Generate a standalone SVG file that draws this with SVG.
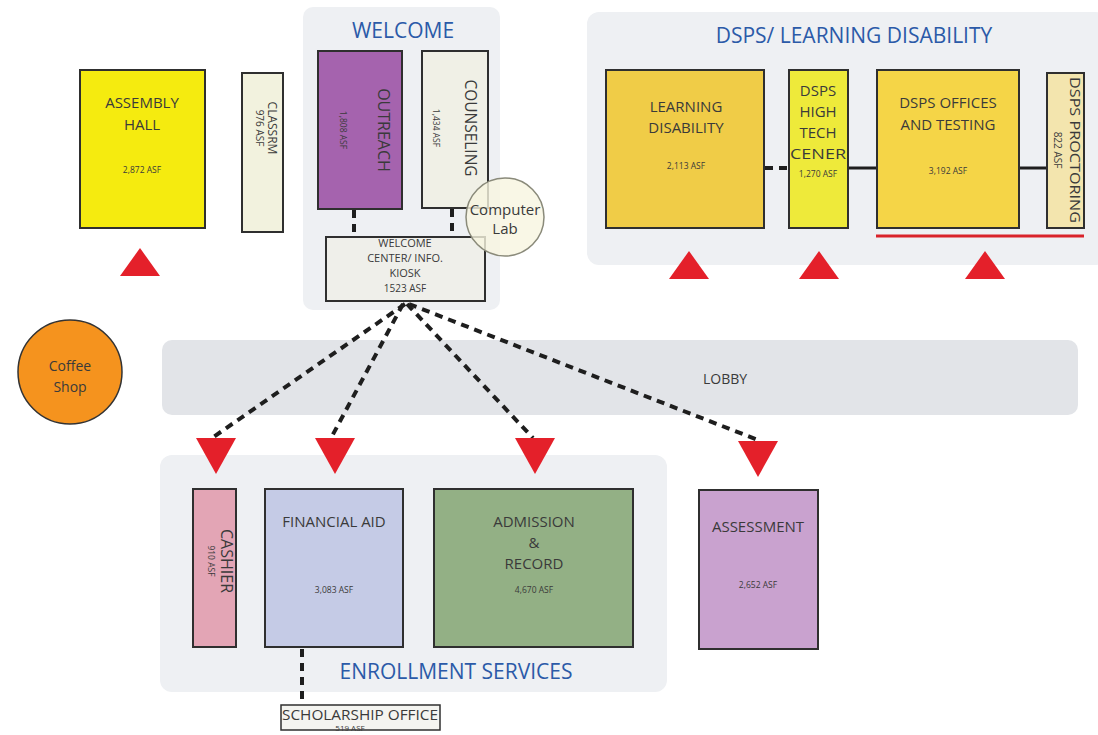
<svg xmlns="http://www.w3.org/2000/svg" xmlns:xlink="http://www.w3.org/1999/xlink" width="1098" height="735" viewBox="0 0 1098 735">
<style>
text{font-family:"Open Sans","Liberation Sans",sans-serif;fill:#3a3a3a;text-anchor:middle}
.zone{fill:#EEF0F3}
.title{fill:#2B5AA8;font-size:21px}
.room{stroke:#2f2f2f;stroke-width:2}
.lbl{font-size:15px}
.asf{font-size:8.5px}
.dash{fill:none;stroke:#1e1e1e;stroke-width:4;stroke-dasharray:8 6}
.solid{fill:none;stroke:#1e1e1e;stroke-width:3}
.tri{fill:#E4202A}
</style>
<defs>
<polygon id="up" class="tri" points="-20,14 20,14 0,-14"/>
<polygon id="down" class="tri" points="-20,-18 20,-18 0,18"/>
</defs>

<g id="zones">
<rect id="welcome-zone" class="zone" x="303" y="7" width="197" height="303" rx="10"/>
<rect id="dsps-zone" class="zone" x="587" y="12" width="520" height="253" rx="12"/>
<rect id="lobby" x="162" y="340" width="916" height="75" rx="10" fill="#E2E4E8"/>
<rect id="enroll-zone" class="zone" x="160" y="455" width="507" height="237" rx="12"/>
<text class="title" x="403" y="38">WELCOME</text>
<text class="title" x="854" y="43">DSPS/ LEARNING DISABILITY</text>
<text class="title" x="456" y="679">ENROLLMENT SERVICES</text>
<text x="725" y="384" font-size="14">LOBBY</text>
</g>

<g id="connectors">
<line class="dash" x1="354" y1="210" x2="354" y2="237"/>
<line class="dash" x1="452" y1="209" x2="452" y2="237"/>
<line class="dash" x1="765" y1="168" x2="789" y2="168"/>
<line class="solid" x1="848" y1="168" x2="877" y2="168"/>
<line class="solid" x1="1019" y1="168" x2="1047" y2="168"/>
<line class="dash" x1="405" y1="304" x2="212" y2="438"/>
<line class="dash" x1="403" y1="304" x2="331" y2="438"/>
<line class="dash" x1="407" y1="304" x2="533" y2="438"/>
<line class="dash" x1="409" y1="304" x2="758" y2="440"/>
<line class="dash" x1="302" y1="649" x2="302" y2="705"/>
<line x1="876" y1="236" x2="1084" y2="236" stroke="#D9232A" stroke-width="3"/>
</g>

<g id="assembly-hall">
<rect class="room" x="80" y="70" width="125" height="158" fill="#F5EB0F"/>
<text class="lbl" x="142" y="108">ASSEMBLY</text>
<text class="lbl" x="142" y="130">HALL</text>
<text class="asf" x="142" y="173">2,872 ASF</text>
</g>
<g id="classroom">
<rect class="room" x="242" y="73" width="41" height="159" fill="#F2F2DE"/>
<text font-size="12" transform="translate(268,128) rotate(90)">CLASSRM</text>
<text font-size="10" transform="translate(256,128) rotate(90)">976 ASF</text>
</g>

<g id="outreach">
<rect class="room" x="318" y="51" width="84" height="158" fill="#A563AE"/>
<text font-size="16" transform="translate(378,130) rotate(90)">OUTREACH</text>
<text class="asf" transform="translate(340,130) rotate(90)">1,808 ASF</text>
</g>
<g id="counseling">
<rect class="room" x="422" y="51" width="66" height="157" fill="#F0F0E6"/>
<text font-size="15.5" transform="translate(465,128) rotate(90)">COUNSELING</text>
<text class="asf" transform="translate(433,128) rotate(90)">1,434 ASF</text>
</g>
<g id="kiosk">
<rect class="room" x="326" y="237" width="159" height="64" fill="#EFEFEA"/>
<text font-size="11" x="405" y="247">WELCOME</text>
<text font-size="11" x="405" y="262">CENTER/ INFO.</text>
<text font-size="11" x="405" y="277">KIOSK</text>
<text font-size="10" x="405" y="292">1523 ASF</text>
</g>
<g id="computer-lab">
<circle cx="505" cy="217" r="39" fill="#F7F5E0" fill-opacity="0.8" stroke="#8a8a7a" stroke-width="1.5"/>
<text font-size="15" x="505" y="215">Computer</text>
<text font-size="15" x="505" y="234">Lab</text>
</g>

<g id="learning-disability">
<rect class="room" x="606" y="70" width="158" height="158" fill="#F0CC47"/>
<text class="lbl" x="686" y="112">LEARNING</text>
<text class="lbl" x="686" y="133">DISABILITY</text>
<text class="asf" x="686" y="169">2,113 ASF</text>
</g>
<g id="dsps-high-tech">
<rect class="room" x="789" y="70" width="59" height="158" fill="#EEEA3A"/>
<text class="lbl" x="818" y="96">DSPS</text>
<text class="lbl" x="818" y="117">HIGH</text>
<text class="lbl" x="818" y="138">TECH</text>
<text class="lbl" x="818" y="159" textLength="56" lengthAdjust="spacingAndGlyphs">CENER</text>
<text class="asf" x="818" y="177">1,270 ASF</text>
</g>
<g id="dsps-offices">
<rect class="room" x="877" y="70" width="142" height="158" fill="#F5D547"/>
<text class="lbl" x="948" y="108">DSPS OFFICES</text>
<text class="lbl" x="948" y="130">AND TESTING</text>
<text class="asf" x="948" y="174">3,192 ASF</text>
</g>
<g id="dsps-proctoring">
<rect class="room" x="1047" y="73" width="37" height="155" fill="#F3E5AE"/>
<text font-size="14" transform="translate(1070,150) rotate(90)" textLength="146" lengthAdjust="spacingAndGlyphs">DSPS PROCTORING</text>
<text font-size="10" transform="translate(1054,150) rotate(90)">822 ASF</text>
</g>

<g id="coffee-shop">
<circle cx="70" cy="372" r="52" fill="#F5931E" stroke="#333" stroke-width="1.5"/>
<text font-size="14" x="70" y="371">Coffee</text>
<text font-size="14" x="70" y="392">Shop</text>
</g>

<g id="cashier">
<rect class="room" x="193" y="489" width="43" height="158" fill="#E3A5B5"/>
<text font-size="16" transform="translate(221,561) rotate(90)">CASHIER</text>
<text class="asf" transform="translate(208,561) rotate(90)">910 ASF</text>
</g>
<g id="financial-aid">
<rect class="room" x="265" y="489" width="138" height="158" fill="#C5CBE6"/>
<text class="lbl" x="334" y="527">FINANCIAL AID</text>
<text class="asf" x="334" y="593">3,083 ASF</text>
</g>
<g id="admission">
<rect class="room" x="434" y="489" width="199" height="158" fill="#93B085"/>
<text class="lbl" x="534" y="527">ADMISSION</text>
<text class="lbl" x="534" y="548">&amp;</text>
<text class="lbl" x="534" y="569">RECORD</text>
<text class="asf" x="534" y="593">4,670 ASF</text>
</g>
<g id="assessment">
<rect class="room" x="699" y="490" width="119" height="159" fill="#C9A2CF"/>
<text class="lbl" x="758" y="532">ASSESSMENT</text>
<text class="asf" x="758" y="588">2,652 ASF</text>
</g>
<g id="scholarship">
<rect x="281" y="705" width="159" height="25" fill="#F4F4F0" stroke="#2f2f2f" stroke-width="1.5"/>
<text font-size="14" x="360" y="720" textLength="156" lengthAdjust="spacingAndGlyphs">SCHOLARSHIP OFFICE</text>
<text font-size="8" x="350" y="731">519 ASF</text>
</g>

<g id="indicators">
<use xlink:href="#up" x="140" y="262"/>
<use xlink:href="#up" x="689" y="265"/>
<use xlink:href="#up" x="819" y="265"/>
<use xlink:href="#up" x="985" y="265"/>
<use xlink:href="#down" x="216" y="456"/>
<use xlink:href="#down" x="335" y="456"/>
<use xlink:href="#down" x="535" y="456"/>
<use xlink:href="#down" x="758" y="459"/>
</g>
</svg>
